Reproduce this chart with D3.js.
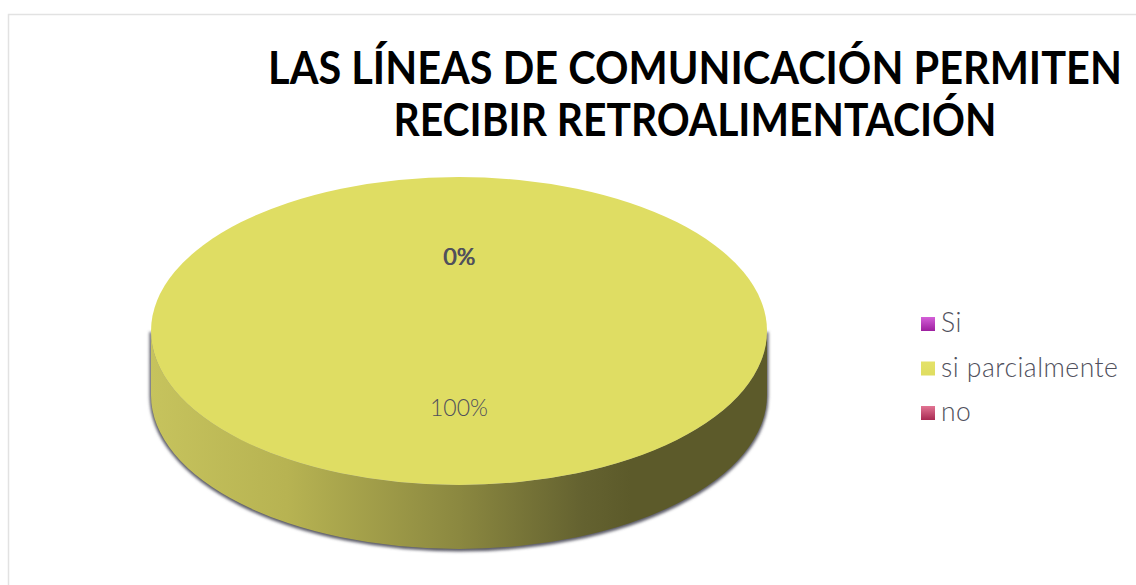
<!DOCTYPE html>
<html>
<head>
<meta charset="utf-8">
<script src="https://cdn.jsdelivr.net/npm/d3@7"></script>
<style>
  html, body { margin: 0; padding: 0; background: #fff; }
  svg { display: block; }
</style>
</head>
<body>
<svg id="chart" width="1136" height="585"></svg>
<script>
var categories = ["Si", "si parcialmente", "no"];
var values = [0, 100, 0];
var titleLines = ["LAS LÍNEAS DE COMUNICACIÓN PERMITEN", "RECIBIR RETROALIMENTACIÓN"];

var svg = d3.select("svg#chart");
var defs = svg.append("defs");

var textColor = "#50505c";
var fontName = "Lato, 'Open Sans', sans-serif";
var topColor = d3.scaleOrdinal().domain(categories).range(["#b93ec0", "#dfdd63", "#c84a70"]);

// pie geometry, the top is flattened to an ellipse
var cx = 459, cy = 331, radius = 308, tilt = 0.5, depth = 64;

// gradients
function legendGradient(id, from, to) {
	var g = defs.append("linearGradient").attr("id", id)
		.attr("x1", 0).attr("y1", 0).attr("x2", 0).attr("y2", 1);
	g.append("stop").attr("offset", "0%").attr("stop-color", from);
	g.append("stop").attr("offset", "100%").attr("stop-color", to);
}
legendGradient("legend0", "#d45fd8", "#9d1f9f");
legendGradient("legend1", "#e4e268", "#dfdd60");
legendGradient("legend2", "#e27493", "#a82a52");

var sideGrad = defs.append("linearGradient").attr("id", "sideGrad");
[["0%", "#c6c35d"], ["22%", "#b7b352"], ["50%", "#8b8840"], ["70%", "#646230"], ["78%", "#5c5a2a"], ["100%", "#5c5a2a"]]
	.forEach(function(s) {
		sideGrad.append("stop").attr("offset", s[0]).attr("stop-color", s[1]);
	});

var blur = defs.append("filter").attr("id", "soft")
	.attr("x", "-5%").attr("y", "-5%").attr("width", "110%").attr("height", "110%");
blur.append("feGaussianBlur").attr("stdDeviation", 1.6);

// frame of the chart area, only top and left are visible
svg.append("path")
	.attr("d", "M8.5,585V14.5H1136")
	.attr("fill", "none")
	.attr("stroke", "#e2e2e2")
	.attr("stroke-width", 1.5);

// title, each line squeezed to the width it has in the original
var titleWidth = d3.scaleOrdinal().domain(titleLines).range([854, 603]);

svg.append("g").selectAll("text")
	.data(titleLines)
	.enter().append("text")
	.attr("text-anchor", "middle")
	.attr("font-family", fontName)
	.attr("font-weight", "bold")
	.attr("font-size", 46)
	.attr("fill", "#000")
	.text(function(d) { return d; })
	.attr("transform", function(d, i) {
		var squeeze = titleWidth(d) / this.getComputedTextLength();
		return "translate(695," + (84 + i * 52) + ") scale(" + squeeze + ",1)";
	});

// side wall of the pie
var left = cx - radius, right = cx + radius, ry = radius * tilt;
var sidePath = "M" + left + "," + cy +
	"A" + radius + "," + ry + " 0 0 0 " + right + "," + cy +
	"V" + (cy + depth) +
	"A" + radius + "," + ry + " 0 0 1 " + left + "," + (cy + depth) + "Z";

svg.append("path")
	.attr("d", sidePath)
	.attr("transform", "translate(0,1)")
	.attr("fill", "#5c5c68")
	.attr("stroke", "#5c5c68")
	.attr("stroke-width", 3)
	.attr("filter", "url(#soft)");

svg.append("path")
	.attr("d", sidePath)
	.attr("fill", "url(#sideGrad)");

// top of the pie
var pie = d3.pie().sort(null).value(function(d) { return d; });
var arc = d3.arc().innerRadius(0).outerRadius(radius);
var slices = pie(values);

var pieTop = svg.append("g")
	.attr("transform", "translate(" + cx + "," + cy + ") scale(1," + tilt + ")");

pieTop.selectAll("path")
	.data(slices)
	.enter().append("path")
	.attr("d", arc)
	.attr("fill", function(d, i) { return topColor(categories[i]); });

// data labels, the two 0% sit almost on top of each other
var total = d3.sum(values);
svg.append("g").selectAll("text")
	.data(slices)
	.enter().append("text")
	.attr("x", function(d, i) { return cx + arc.centroid(d)[0] + (i === 2 ? 0.7 : 0); })
	.attr("y", function(d) { return cy + arc.centroid(d)[1] * tilt; })
	.attr("dy", function(d) { return d.value === 0 ? 11 : 8; })
	.attr("text-anchor", "middle")
	.attr("font-family", fontName)
	.attr("font-weight", function(d) { return d.value === 0 ? 400 : 300; })
	.attr("font-size", 23)
	.attr("fill", textColor)
	.text(function(d) { return d3.format(".0%")(d.value / total); });

// legend
var legendY = d3.scalePoint().domain(categories).range([324, 413]);

var legend = svg.append("g").selectAll("g")
	.data(categories)
	.enter().append("g")
	.attr("transform", function(d) { return "translate(921," + legendY(d) + ")"; });

legend.append("rect")
	.attr("x", 0)
	.attr("y", -7)
	.attr("width", 14)
	.attr("height", 14)
	.attr("fill", function(d, i) { return "url(#legend" + i + ")"; });

legend.append("text")
	.attr("x", 20)
	.attr("y", 8)
	.attr("font-family", fontName)
	.attr("font-weight", 300)
	.attr("font-size", 26.5)
	.attr("letter-spacing", 0.5)
	.attr("fill", textColor)
	.text(function(d) { return d; });
</script>
</body>
</html>
